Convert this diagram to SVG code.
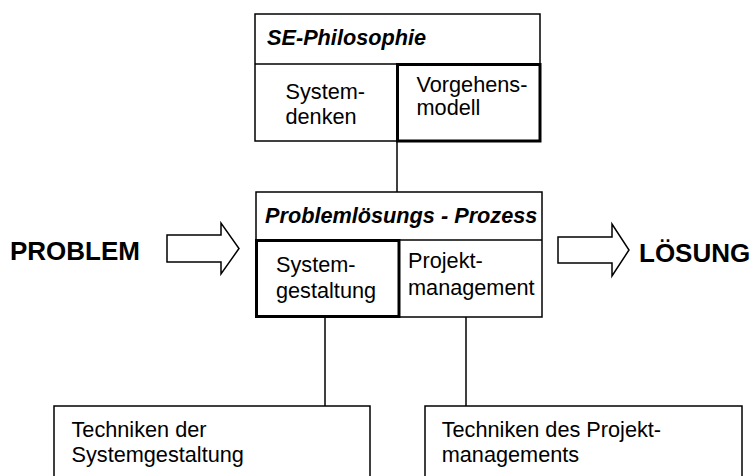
<svg xmlns="http://www.w3.org/2000/svg" width="753" height="476" viewBox="0 0 753 476">
<style>
.box{fill:#fff;stroke:#000;stroke-width:1.5}
.thick{fill:none;stroke:#000;stroke-width:3}
.line{stroke:#000;stroke-width:1.5;fill:none}
.arrow{fill:#fff;stroke:#000;stroke-width:1.5;stroke-linejoin:miter}
text{font-family:"Liberation Sans",Arial,sans-serif;font-size:21.7px;fill:#000}
.hd{font-weight:bold;font-style:italic}
.big{font-weight:bold;font-size:26px}
</style>
<rect width="753" height="476" fill="#fff"/>
<g id="connectors">
<line class="line" x1="397" y1="141" x2="397" y2="192"/>
<line class="line" x1="325" y1="317" x2="325" y2="406"/>
<line class="line" x1="466" y1="317" x2="466" y2="406"/>
</g>
<g id="se-philosophie">
<rect class="box" x="255" y="14" width="285" height="127"/>
<line class="line" x1="255" y1="64" x2="540" y2="64"/>
<line class="line" x1="397" y1="64" x2="397" y2="141"/>
<text class="hd" x="267" y="45">SE-Philosophie</text>
<text x="285.5" y="98.5">System-</text>
<text x="285.5" y="124">denken</text>
</g>
<g id="vorgehensmodell">
<rect class="thick" x="397.5" y="64.5" width="142.5" height="76.5"/>
<text x="416.5" y="91.7">Vorgehens-</text>
<text x="416.5" y="115">modell</text>
</g>
<g id="problemloesungsprozess">
<rect class="box" x="256" y="192" width="286" height="125"/>
<line class="line" x1="256" y1="240" x2="542" y2="240"/>
<text class="hd" x="265" y="223">Problemlösungs - Prozess</text>
<text x="408" y="268.3">Projekt-</text>
<text x="408" y="295">management</text>
</g>
<g id="systemgestaltung">
<rect class="thick" x="256.5" y="240.5" width="142.5" height="76"/>
<text x="276" y="271.7">System-</text>
<text x="276" y="298.3">gestaltung</text>
</g>
<g id="problem">
<text class="big" x="10" y="260">PROBLEM</text>
<polygon class="arrow" points="167,235 221,235 221,223 239,248.5 221,274 221,262 167,262"/>
</g>
<g id="loesung">
<polygon class="arrow" points="558,237 612,237 612,224 629,250 612,276 612,263 558,263"/>
<text class="big" x="639" y="262">LÖSUNG</text>
</g>
<g id="techniken-systemgestaltung">
<rect class="box" x="54" y="406" width="316" height="80"/>
<text x="71.5" y="436.7">Techniken der</text>
<text x="71.5" y="461.7">Systemgestaltung</text>
</g>
<g id="techniken-projektmanagement">
<rect class="box" x="425" y="406" width="317" height="80"/>
<text x="441.7" y="436.7">Techniken des Projekt-</text>
<text x="441.7" y="461.7">managements</text>
</g>
</svg>
